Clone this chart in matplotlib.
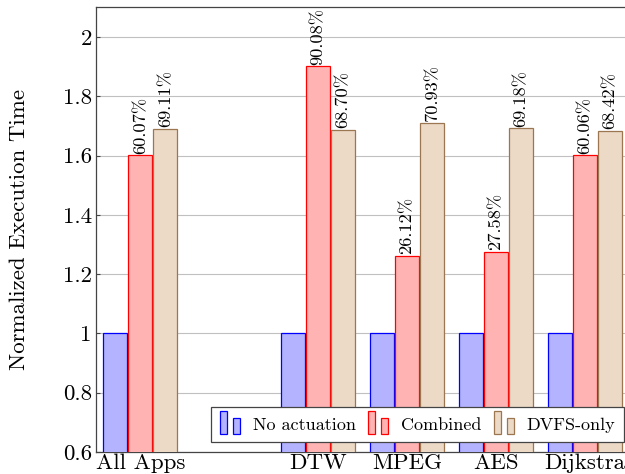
import numpy as np
import matplotlib
matplotlib.use('Agg')
import matplotlib.pyplot as plt
from matplotlib.patches import Rectangle
from matplotlib.legend_handler import HandlerBase
from matplotlib.ticker import FuncFormatter

plt.rcParams.update({
    'font.family': 'cmr10',
    'axes.formatter.use_mathtext': True,
    'mathtext.fontset': 'cm',
})

# ── Data ─────────────────────────────────────────────────────────
categories = ['All Apps', 'DTW', 'MPEG', 'AES', 'Dijkstra']
positions = [0, 2, 3, 4, 5]
no_actuation = [1.0, 1.0, 1.0, 1.0, 1.0]
combined = [1.6007, 1.9008, 1.2612, 1.2758, 1.6006]
dvfs_only = [1.6911, 1.6870, 1.7093, 1.6918, 1.6842]
combined_labels = ['60.07%', '90.08%', '26.12%', '27.58%', '60.06%']
dvfs_labels = ['69.11%', '68.70%', '70.93%', '69.18%', '68.42%']

series = [
    ('No actuation', no_actuation, '#b3b3ff', '#0000ff', None),
    ('Combined', combined, '#ffb3b3', '#ff0000', combined_labels),
    ('DVFS-only', dvfs_only, '#ecd9c6', '#9c7650', dvfs_labels),
]


class TwoBarHandler(HandlerBase):
    """pgfplots-style ybar legend image: two small bars."""
    def create_artists(self, legend, orig_handle, xdescent, ydescent,
                       width, height, fontsize, trans):
        w = width * 0.35
        x0, y0 = -xdescent, -ydescent - 0.15 * height
        r1 = Rectangle((x0, y0), w, height * 1.45,
                       facecolor=orig_handle.get_facecolor(),
                       edgecolor=orig_handle.get_edgecolor(), lw=0.9,
                       transform=trans)
        r2 = Rectangle((x0 + width * 0.65, y0), w, height * 1.0,
                       facecolor=orig_handle.get_facecolor(),
                       edgecolor=orig_handle.get_edgecolor(), lw=0.9,
                       transform=trans)
        return [r1, r2]


fig = plt.figure(figsize=(6.25, 4.74), dpi=100)
ax = fig.add_axes([96 / 625, 1 - 452 / 474, (629.5 - 96) / 625, (452 - 7.4) / 474])

bw = 0.27
step = 0.281
x = np.array(positions, dtype=float)
handles = []
for i, (name, vals, fc, ec, labels) in enumerate(series):
    xs = x + (i - 1) * step
    ax.bar(xs, vals, width=bw, color=fc, edgecolor=ec, lw=0.9, zorder=3)
    handles.append(Rectangle((0, 0), 1, 1, facecolor=fc, edgecolor=ec, label=name))
    if labels is not None:
        for xi, v, lab in zip(xs, vals, labels):
            ax.text(xi, v + 0.006, lab, rotation=90, ha='center', va='bottom',
                    fontsize=13.3, zorder=4)

ax.set_xlim(-0.5, 5.5)
ax.set_ylim(0.6, 2.1)
ax.set_yticks(np.arange(0.6, 2.01, 0.2))
ax.yaxis.set_major_formatter(FuncFormatter(lambda v, p: f'{v:g}'))
ax.set_xticks(positions)
ax.set_xticklabels(categories)
ax.tick_params(axis='both', direction='in', labelsize=16.5, length=3,
               color='#444444', pad=3)
ax.tick_params(axis='x', pad=1)
ax.yaxis.grid(True, color='#c0c0c0', lw=0.8, zorder=0)
ax.set_axisbelow(True)
for s in ax.spines.values():
    s.set_color('#444444')
    s.set_linewidth(0.9)
ax.set_ylabel('Normalized Execution Time', fontsize=16.5, labelpad=24)

leg = ax.legend(handles=handles, ncol=3, loc='lower right',
                bbox_to_anchor=(624 / 625, 1 - 442 / 474),
                bbox_transform=fig.transFigure, borderaxespad=0,
                fontsize=13, frameon=True, fancybox=False,
                edgecolor='#444444', framealpha=1, handlelength=1.1,
                handleheight=1.0, columnspacing=0.7, handletextpad=0.7,
                borderpad=0.5, handler_map={Rectangle: TwoBarHandler()})
leg.get_frame().set_linewidth(0.9)
leg.set_zorder(10)

fig.savefig('out.png', dpi=100)
